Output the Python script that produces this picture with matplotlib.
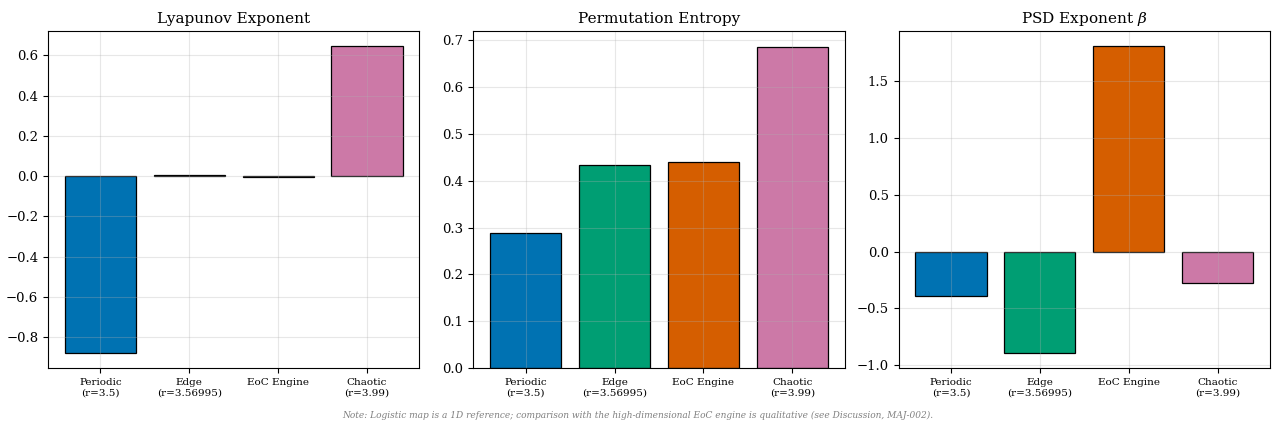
import matplotlib
matplotlib.use("Agg")
import matplotlib.pyplot as plt

plt.rcParams['font.family'] = 'DejaVu Serif'
plt.rcParams['mathtext.fontset'] = 'dejavuserif'

regimes = ['Periodic\n(r=3.5)', 'Edge\n(r=3.56995)', 'EoC Engine', 'Chaotic\n(r=3.99)']
colors = ['#0072B2', '#009E73', '#D55E00', '#CC79A7']

lyapunov = [-0.877, 0.004, -0.004, 0.645]
perm_entropy = [0.288, 0.433, 0.439, 0.685]
psd_beta = [-0.388, -0.891, 1.808, -0.273]

titles = ['Lyapunov Exponent', 'Permutation Entropy', r'PSD Exponent $\beta$']
series = [lyapunov, perm_entropy, psd_beta]

fig, axes = plt.subplots(1, 3, figsize=(12.76, 4.26), dpi=100)
fig.subplots_adjust(left=0.0376, right=0.9953, top=0.927, bottom=0.136, wspace=0.145)

for ax, vals, title in zip(axes, series, titles):
    x = range(len(regimes))
    ax.bar(x, vals, color=colors, edgecolor='black', linewidth=0.9)
    ax.set_xticks(list(x))
    ax.set_xticklabels(regimes, fontsize=7.5)
    ax.tick_params(axis='y', labelsize=9.5)
    ax.set_title(title, fontsize=11)
    ax.grid(True, alpha=0.3)

fig.text(0.5, 0.015, 'Note: Logistic map is a 1D reference; comparison with the high-dimensional EoC engine is qualitative (see Discussion, MAJ-002).',
         ha='center', va='bottom', fontsize=6.5, style='italic', color='gray')

fig.savefig('out.png', dpi=100)
